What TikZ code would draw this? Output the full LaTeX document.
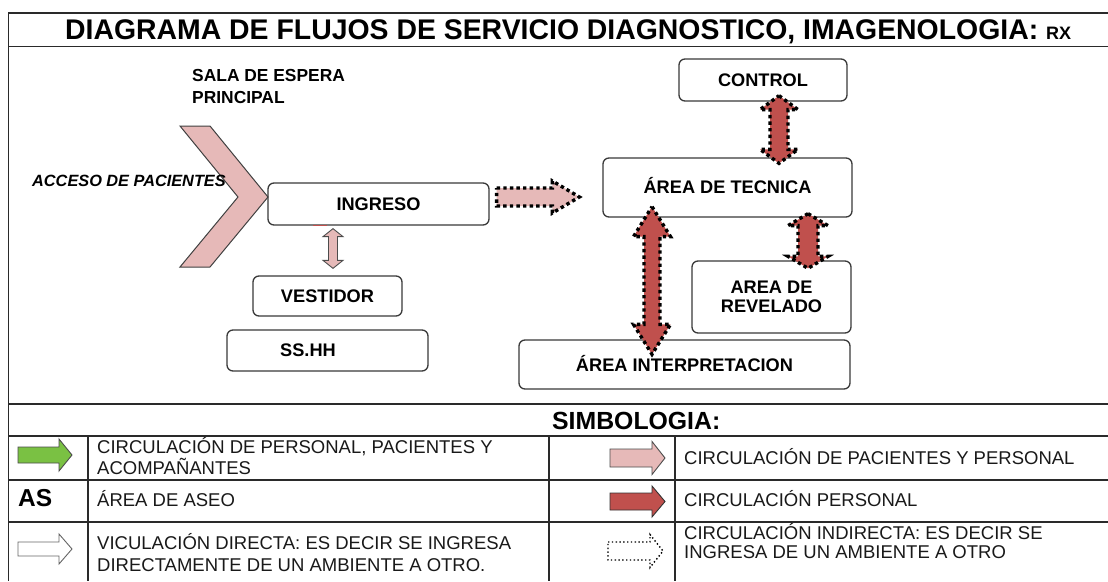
\documentclass[tikz,border=0pt]{standalone}
\usepackage{fontspec}
\setmainfont{Liberation Sans}
\usetikzlibrary{calc}
\definecolor{pinkf}{HTML}{E6B9B8}
\definecolor{redf}{HTML}{C0504D}
\definecolor{greenf}{HTML}{7AC143}
\definecolor{boxline}{HTML}{3A3A3A}
\definecolor{frm}{HTML}{2A2A2A}
\newcommand\fsz[1]{\fontsize{#1}{#1}\selectfont}
% double block arrow: #1 style, #2 tip A, #3 tip B, #4 body half width, #5 head half width, #6 head length
\newcommand\dblblk[6]{%
  \coordinate (hA) at ($(#2)!#6!(#3)$);
  \coordinate (hB) at ($(#3)!#6!(#2)$);
  \draw[#1] (#2) -- ($(hA)!#5!90:(#3)$) -- ($(hA)!#4!90:(#3)$) -- ($(hB)!#4!-90:(#2)$)
    -- ($(hB)!#5!-90:(#2)$) -- (#3) -- ($(hB)!#5!90:(#2)$) -- ($(hB)!#4!90:(#2)$)
    -- ($(hA)!#4!-90:(#3)$) -- ($(hA)!#5!-90:(#3)$) -- cycle;}
% single block arrow: head at #3
\newcommand\sglblk[6]{%
  \coordinate (hB) at ($(#3)!#6!(#2)$);
  \draw[#1] ($(#2)!#4!90:(#3)$) -- ($(hB)!#4!-90:(#2)$) -- ($(hB)!#5!-90:(#2)$) -- (#3)
    -- ($(hB)!#5!90:(#2)$) -- ($(hB)!#4!90:(#2)$) -- ($(#2)!#4!-90:(#3)$) -- cycle;}
\tikzset{
  frame line/.style={draw=frm, line width=1.4pt},
  roombox/.style={draw=boxline, line width=1.3pt, rounded corners=6pt, inner sep=0pt,
    font=\bfseries\fsz{18.2}, align=center},
  lbl/.style={anchor=base west, inner sep=0pt},
  legtext/.style={lbl, font=\fsz{18.5}, text=black!90},
  redarrow/.style={fill=redf, draw=black, line width=3.4pt, dash pattern=on 3.4pt off 3.2pt},
  pinkdot/.style={fill=pinkf, draw=black, line width=3.4pt, dash pattern=on 3.4pt off 3.2pt},
  pinkarrow/.style={fill=pinkf, draw=black!70, line width=0.9pt},
}
\begin{document}
\begin{tikzpicture}[x=1pt, y=-1pt]
\useasboundingbox (0,0) rectangle (1108,581);
\fill[white] (0,0) rectangle (1108,581);
% frame
\draw[frame line] (1108,13) -- (8.5,13) -- (8.5,581);
\draw[frame line] (8.5,46.5) -- (1108,46.5);
\draw[frame line] (8.5,404) -- (1108,404);
\draw[frame line] (8.5,436) -- (1108,436);
\draw[frame line] (8.5,480) -- (1108,480);
\draw[frame line] (8.5,522) -- (1108,522);
\draw[frame line] (88,436) -- (88,581);
\draw[frame line] (549,436) -- (549,581);
\draw[frame line] (675,436) -- (675,581);
% title
\node[lbl, font=\bfseries\fsz{28.4}] (title) at (65,39.5)
  {DIAGRAMA DE FLUJOS DE SERVICIO DIAGNOSTICO, IMAGENOLOGIA: {\fsz{18}RX}};
% chevron
\draw[fill=pinkf, draw=black!75, line width=1pt] (180,126) -- (210,126) -- (268,197)
  -- (210,267) -- (180,267) -- (238,197) -- cycle;
% labels
\node[lbl, font=\bfseries\fsz{17.4}] (sala1) at (192,81.5) {SALA DE ESPERA};
\node[lbl, font=\bfseries\fsz{17.4}] (sala2) at (192,103.5) {PRINCIPAL};
\node[lbl, font=\bfseries\itshape\fsz{16.3}] (acceso) at (32,186) {ACCESO DE PACIENTES};
% rooms
\node[roombox, minimum width=221pt, minimum height=42pt] (ingreso) at (378.5,204) {INGRESO};
\node[roombox, minimum width=149pt, minimum height=40pt] (vestidor) at (327.5,296) {VESTIDOR};
\node[roombox, minimum width=201pt, minimum height=41pt] (sshh) at (327.5,350.5) {SS.HH\hspace*{39pt}};
\node[roombox, minimum width=168pt, minimum height=42pt] (control) at (763,80) {CONTROL};
\node[roombox, minimum width=249pt, minimum height=59pt] (tecnica) at (727.5,187.5) {\raisebox{5pt}{ÁREA DE TECNICA}};
\node[roombox, minimum width=159pt, minimum height=72pt] (revelado) at (771.5,297) {\raisebox{2.5pt}{\parbox{150pt}{\centering\baselineskip=19pt AREA DE\\REVELADO}}};
\node[roombox, minimum width=331pt, minimum height=49pt] (interp) at (684.5,364.5) {\raisebox{2.5pt}{ÁREA INTERPRETACION}};
% small red mark
\draw[redf, line width=1.6pt] (313,225.6) -- (327,225.6);
% connector end points
\coordinate (c1a) at ($(control.south)+(16,-6)$);
\coordinate (c1b) at ($(tecnica.north)+(51.5,6)$);
\coordinate (c2a) at ($(tecnica.south)+(-75.5,-11)$);
\coordinate (c2b) at ($(interp.north)+(-32.5,15)$);
\coordinate (c3a) at ($(tecnica.south)+(80.5,-4)$);
\coordinate (c3b) at ($(revelado.north)+(36.5,8)$);
\coordinate (p1a) at ($(ingreso.east)+(7,-7)$);
\coordinate (p1b) at ($(tecnica.west)+(-23,9.5)$);
\coordinate (s1a) at ($(ingreso.south)+(-45.5,3)$);
\coordinate (s1b) at ($(vestidor.north)+(5.5,-7)$);
% connectors
\dblblk{pinkarrow}{s1a}{s1b}{4.5pt}{10pt}{8pt}
\sglblk{pinkdot}{p1a}{p1b}{9pt}{16pt}{27pt}
\dblblk{redarrow}{c1a}{c1b}{9pt}{19pt}{14pt}
\dblblk{redarrow}{c2a}{c2b}{8pt}{18.5pt}{30pt}
\dblblk{redarrow}{c3a}{c3b}{10pt}{20pt}{12pt}
% legend
\node[lbl, font=\bfseries\fsz{24.8}] (simb) at (552,429.5) {SIMBOLOGIA:};
\sglblk{fill=greenf, draw=black!70, line width=0.9pt}{18,455}{72,455}{8pt}{16pt}{13pt}
\node[legtext] (t1a) at (97,453.5) {CIRCULACIÓN DE PERSONAL, PACIENTES Y};
\node[legtext] (t1b) at (97,474.5) {ACOMPAÑANTES};
\node[lbl, font=\bfseries\fsz{24.5}] (as) at (18,506) {AS};
\node[legtext] (t2) at (97,506.5) {ÁREA DE ASEO};
\sglblk{fill=white, draw=black!60, line width=0.9pt}{18,549}{72,549}{7pt}{15pt}{13pt}
\node[legtext] (t3a) at (97,549.5) {VICULACIÓN DIRECTA: ES DECIR SE INGRESA};
\node[legtext] (t3b) at (97,571.5) {DIRECTAMENTE DE UN AMBIENTE A OTRO.};
\sglblk{pinkarrow}{610,458}{665,458}{9pt}{16.5pt}{13pt}
\node[legtext] (t4) at (684,464.5) {CIRCULACIÓN DE PACIENTES Y PERSONAL};
\sglblk{fill=redf, draw=black!80, line width=0.9pt}{610,501.5}{665,501.5}{8.5pt}{15.5pt}{13pt}
\node[legtext] (t5) at (684,506.5) {CIRCULACIÓN PERSONAL};
\sglblk{draw=black, line width=1.4pt, dash pattern=on 1.4pt off 2.4pt}{608,551}{663,551}{9pt}{16.5pt}{13pt}
\node[legtext] (t6a) at (684,539.5) {CIRCULACIÓN INDIRECTA: ES DECIR SE};
\node[legtext] (t6b) at (684,558.5) {INGRESA DE UN AMBIENTE A OTRO};
\end{tikzpicture}
\end{document}
